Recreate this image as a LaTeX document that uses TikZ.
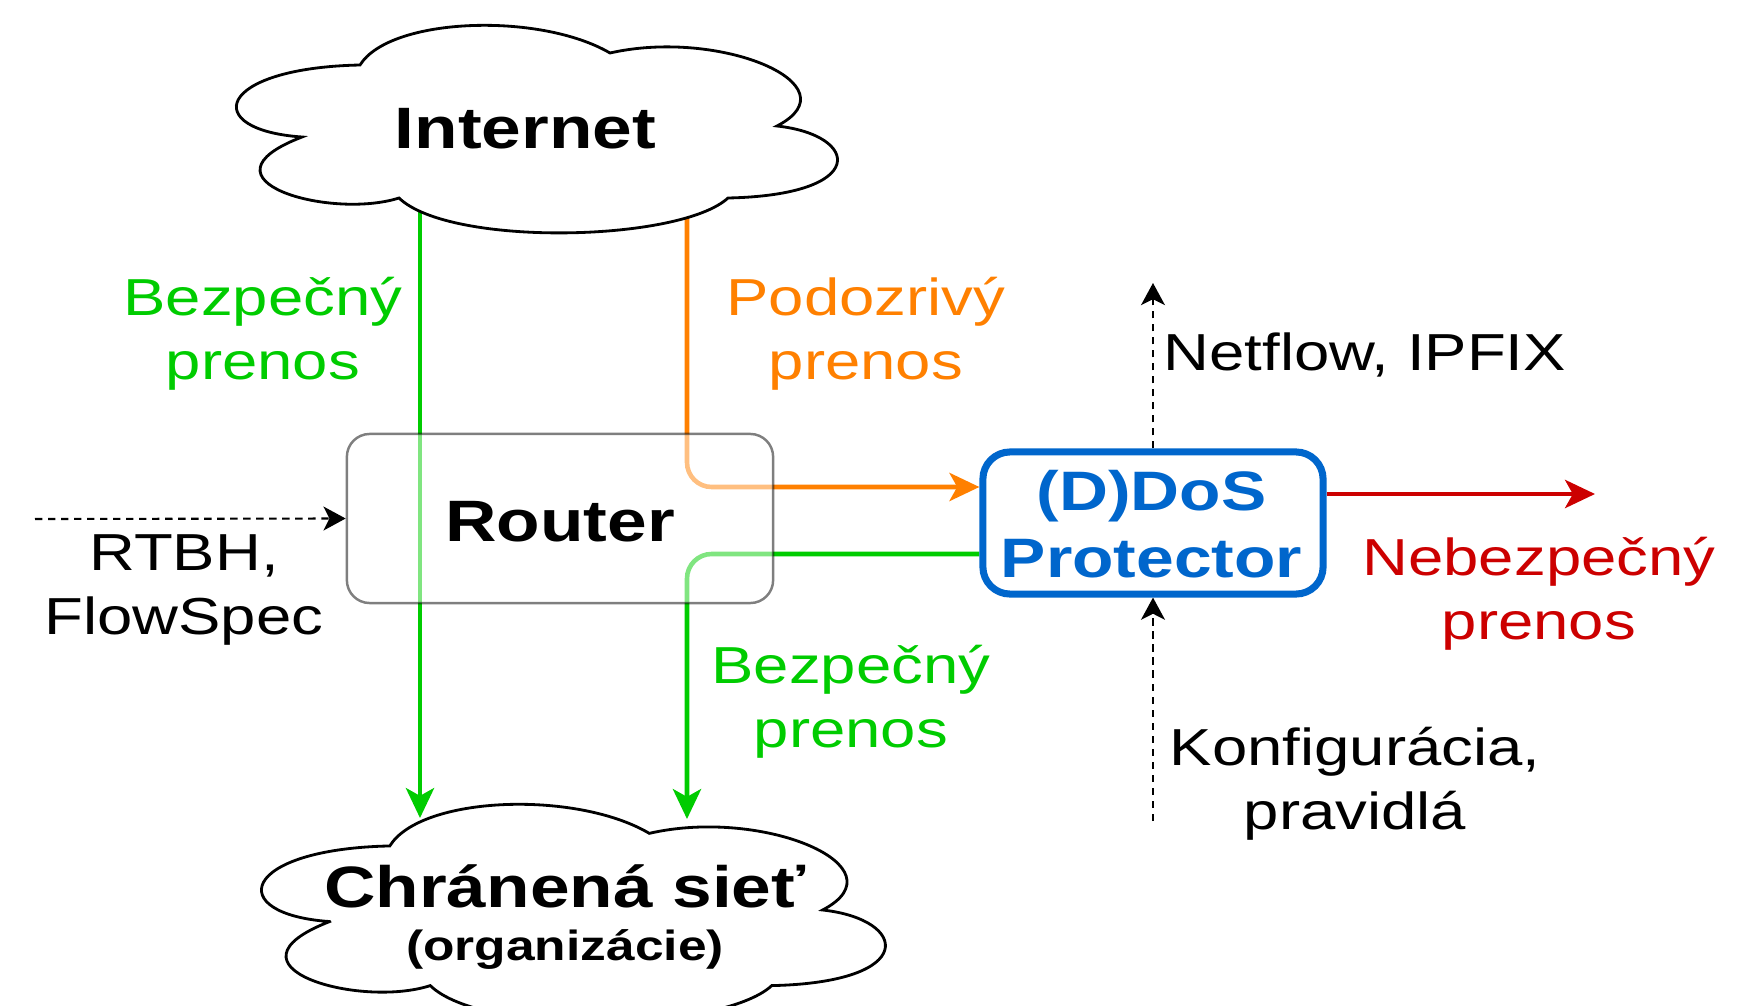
\documentclass[tikz,border=0pt]{standalone}
\usepackage{fontspec}
\setmainfont{Liberation Sans}[FakeStretch=1.22]
\usetikzlibrary{arrows.meta,backgrounds}
\definecolor{cgreen}{HTML}{00CC00}
\definecolor{corange}{HTML}{FF8000}
\definecolor{cred}{HTML}{CC0000}
\definecolor{cblue}{HTML}{0066CC}
\newcommand\fbig{\fontsize{16.6}{20}\selectfont\bfseries}
\newcommand\fddos{\fontsize{15.8}{19.1}\selectfont\bfseries}
\newcommand\freg{\fontsize{14.8}{18.2}\selectfont}
\newcommand\forg{\fontsize{12}{15.1}\selectfont\bfseries}
\newcommand\twol[2]{\begin{tabular}[t]{@{}c@{}}#1\\#2\end{tabular}}
\begin{document}
\begin{tikzpicture}[x=0.01cm,y=-0.01cm,
  cloudline/.style={draw=black,fill=white,line width=0.8pt},
  flow/.style={line width=1.3pt,rounded corners=7pt,-{Stealth[length=8.5pt,width=8pt,inset=2.2pt]}},
  ctrl/.style={line width=0.6pt,dash pattern=on 2.1pt off 1.6pt,-{Stealth[length=6.3pt,width=6.8pt,inset=1.7pt]}},
  txt/.style={inner sep=0pt,anchor=base},
  routerbox/.style={draw=black,draw opacity=0.5,fill=white,fill opacity=0.5,line width=0.7pt,rounded corners=6.5pt,minimum width=4.26cm,minimum height=1.69cm,inner sep=0pt},
  ddosbox/.style={draw=cblue,fill=white,line width=2pt,rounded corners=7.7pt,minimum width=3.4cm,minimum height=1.42cm,inner sep=0pt},
  cloudshape/.pic={\path[cloudline] (68,111) .. controls (-34,104) and (-19,42) .. (126,39)
      .. controls (156,-9) and (306,-14) .. (376,27)
      .. controls (486,2) and (622,59) .. (543,100)
      .. controls (626,109) and (636,169) .. (494,172)
      .. controls (446,216) and (216,221) .. (165,172)
      .. controls (96,194) and (-44,154) .. cycle;}
]
\useasboundingbox (0,0) rectangle (1744,1006);

% clouds
\path (234,26) pic {cloudshape};
\path (259,805) pic[xscale=1.038,yscale=1.05] {cloudshape};
\node[txt,font=\fbig] (inet) at (525.5,149) {Internet};
\node[txt,font=\forg] (lan) at (565,907) {\twol{{\fbig Chránená sieť}}{(organizácie)}};

% router and protector
\node[routerbox] (router) at (560,518.5) {};
\node[txt,font=\fbig] (routerT) at (560,541.7) {Router};
\node[ddosbox] (ddos) at (1153,523) {};
\node[txt,font=\fddos,text=cblue] (ddosT) at (1151.5,510) {\twol{(D)DoS}{Protector}};

% labels
\node[txt,font=\freg,text=cgreen] (lblA) at (263,315) {\twol{Bezpečný}{prenos}};
\node[txt,font=\freg,text=corange] (lblB) at (866,315) {\twol{Podozrivý}{prenos}};
\node[txt,font=\freg,text=cgreen] (lblC) at (851,683) {\twol{Bezpečný}{prenos}};
\node[txt,font=\freg,anchor=base west] (lblD) at (1163,370) {Netflow, IPFIX};
\node[txt,font=\freg] (lblE) at (1355,765) {\twol{Konfigurácia,}{pravidlá}};
\node[txt,font=\freg,text=cred] (lblF) at (1539,575) {\twol{Nebezpečný}{prenos}};
\node[txt,font=\freg] (lblG) at (184,570) {\twol{RTBH,}{FlowSpec}};

% connector end points
\coordinate (netA) at (420,200);
\coordinate (netB) at (687,200);
\coordinate (lanA) at (420,818);
\coordinate (lanB) at (687,819);
\coordinate (oy) at (0,487);
\coordinate (gy) at (0,554);
\coordinate (ry) at (0,494);
\coordinate (redEnd) at (1595,494);
\coordinate (nfEnd) at (1153,283);
\coordinate (cfgStart) at (1153,821);
\coordinate (rtbhStart) at (35,519);

\begin{pgfonlayer}{background}
\fill[white] (0,0) rectangle (1744,1006);
\draw[flow,cgreen] (netA) -- (lanA);
\draw[flow,corange] (netB) |- (oy -| ddos.west);
\draw[flow,cgreen] (gy -| ddos.west) -| (lanB);
\draw[flow,cred] (ry -| ddos.east) -- (redEnd);
\draw[ctrl] (ddos.north) -- (nfEnd);
\draw[ctrl] (cfgStart) -- (ddos.south);
\draw[ctrl] (rtbhStart) -- (router.west);
\end{pgfonlayer}
\end{tikzpicture}
\end{document}
